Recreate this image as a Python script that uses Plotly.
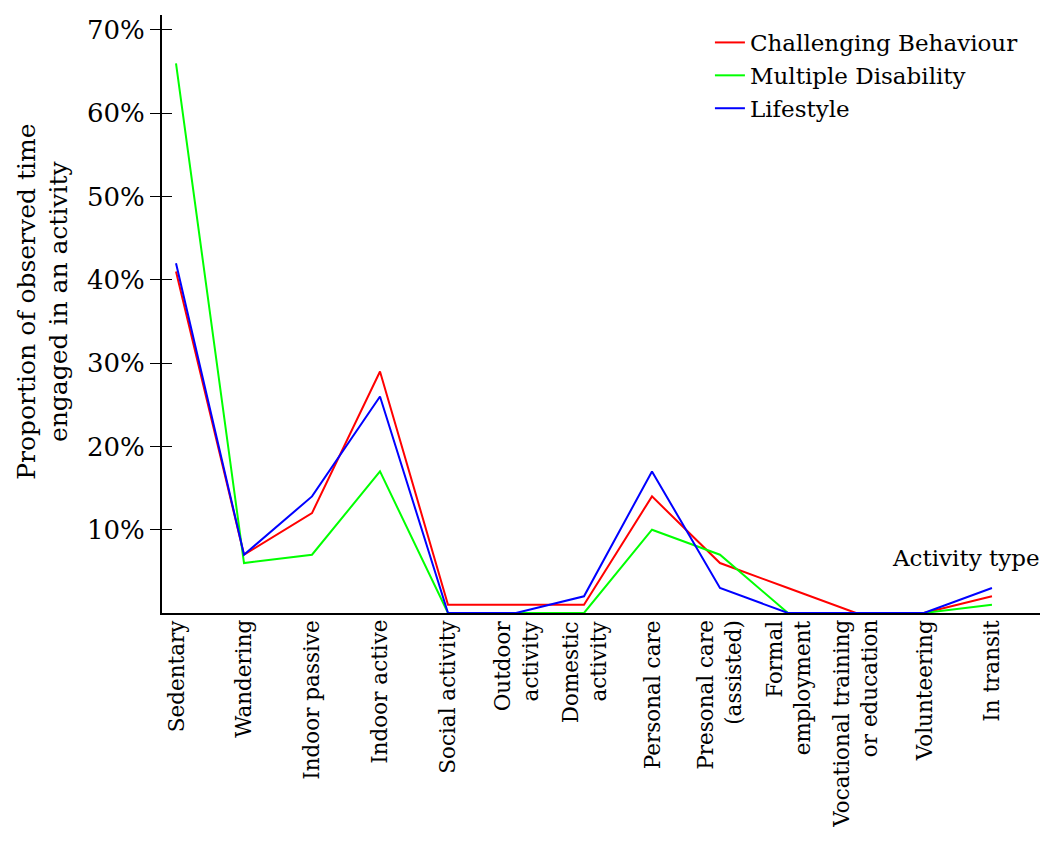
import plotly.graph_objects as go

# Activity categories (x axis)
categories = [
    "Sedentary", "Wandering", "Indoor passive", "Indoor active",
    "Social activity", "Outdoor<br>activity", "Domestic<br>activity",
    "Personal care", "Presonal care<br>(assisted)", "Formal<br>employment",
    "Vocational training<br>or education", "Volunteering", "In transit",
]

# Proportion of observed time (%)
challenging = [41, 7, 12, 29, 1, 1, 1, 14, 6, 3, 0, 0, 2]
multiple = [66, 6, 7, 17, 0, 0, 0, 10, 7, 0, 0, 0, 1]
lifestyle = [42, 7, 14, 26, 0, 0, 2, 17, 3, 0, 0, 0, 3]

series = [
    ("Challenging Behaviour", challenging, "#FF0000"),
    ("Multiple Disability", multiple, "#00FF00"),
    ("Lifestyle", lifestyle, "#0000FF"),
]

y_ticks = [10, 20, 30, 40, 50, 60, 70]
FONT = "DejaVu Serif"

x_idx = list(range(len(categories)))

fig = go.Figure()
for name, vals, color in series:
    fig.add_trace(go.Scatter(
        x=x_idx, y=vals, mode="lines", name=name,
        line=dict(color=color, width=2),
    ))

# invisible trace to carry inside ticks on the overlay axis
fig.add_trace(go.Scatter(x=[0], y=[0], yaxis="y2", mode="lines",
                         showlegend=False, hoverinfo="skip",
                         line=dict(width=0)))

# category labels as rotated annotations so multi-line ones stay centred
cat_notes = [
    dict(text=c, x=i, xref="x", y=-0.008, yref="paper",
         xanchor="center", yanchor="top", textangle=-90, align="right",
         showarrow=False, font=dict(size=21.5, family=FONT))
    for i, c in zip(x_idx, categories)
]

fig.update_layout(
    width=1040, height=819,
    paper_bgcolor="white", plot_bgcolor="white",
    margin=dict(l=154, r=3, t=7, b=214),
    font=dict(family=FONT, color="black", size=22),
    showlegend=True,
    legend=dict(
        x=0.975, y=0.99, xanchor="right", yanchor="top",
        bgcolor="rgba(0,0,0,0)", font=dict(size=23, family=FONT),
        tracegroupgap=0, itemwidth=30,
    ),
    xaxis=dict(
        range=[-0.206, 12.78],
        tickmode="array", tickvals=x_idx, showticklabels=False,
        ticks="", showgrid=False, zeroline=False,
        showline=True, linecolor="black", linewidth=2,
    ),
    yaxis=dict(
        range=[0, 71.8],
        tickmode="array", tickvals=y_ticks,
        ticktext=[f"{v}%" for v in y_ticks],
        ticks="outside", ticklen=10, tickwidth=1, tickcolor="black",
        showgrid=False, zeroline=False,
        showline=True, linecolor="black", linewidth=2,
        tickfont=dict(size=26, family=FONT),
    ),
    yaxis2=dict(
        range=[0, 71.8], overlaying="y", side="left",
        tickmode="array", tickvals=y_ticks, showticklabels=False,
        ticks="inside", ticklen=10, tickwidth=1, tickcolor="black",
        showgrid=False, zeroline=False, showline=False,
    ),
    annotations=cat_notes + [
        dict(text="Proportion of observed time<br>engaged in an activity",
             xref="paper", yref="paper", x=-0.135, y=0.52,
             xanchor="center", yanchor="middle", textangle=-90,
             showarrow=False, font=dict(size=25, family=FONT)),
        dict(text="Activity type", xref="paper", yref="y",
             x=0.997, y=6.6, xanchor="right", yanchor="middle",
             showarrow=False, font=dict(size=23, family=FONT)),
    ],
)

fig.write_html("out.html")
